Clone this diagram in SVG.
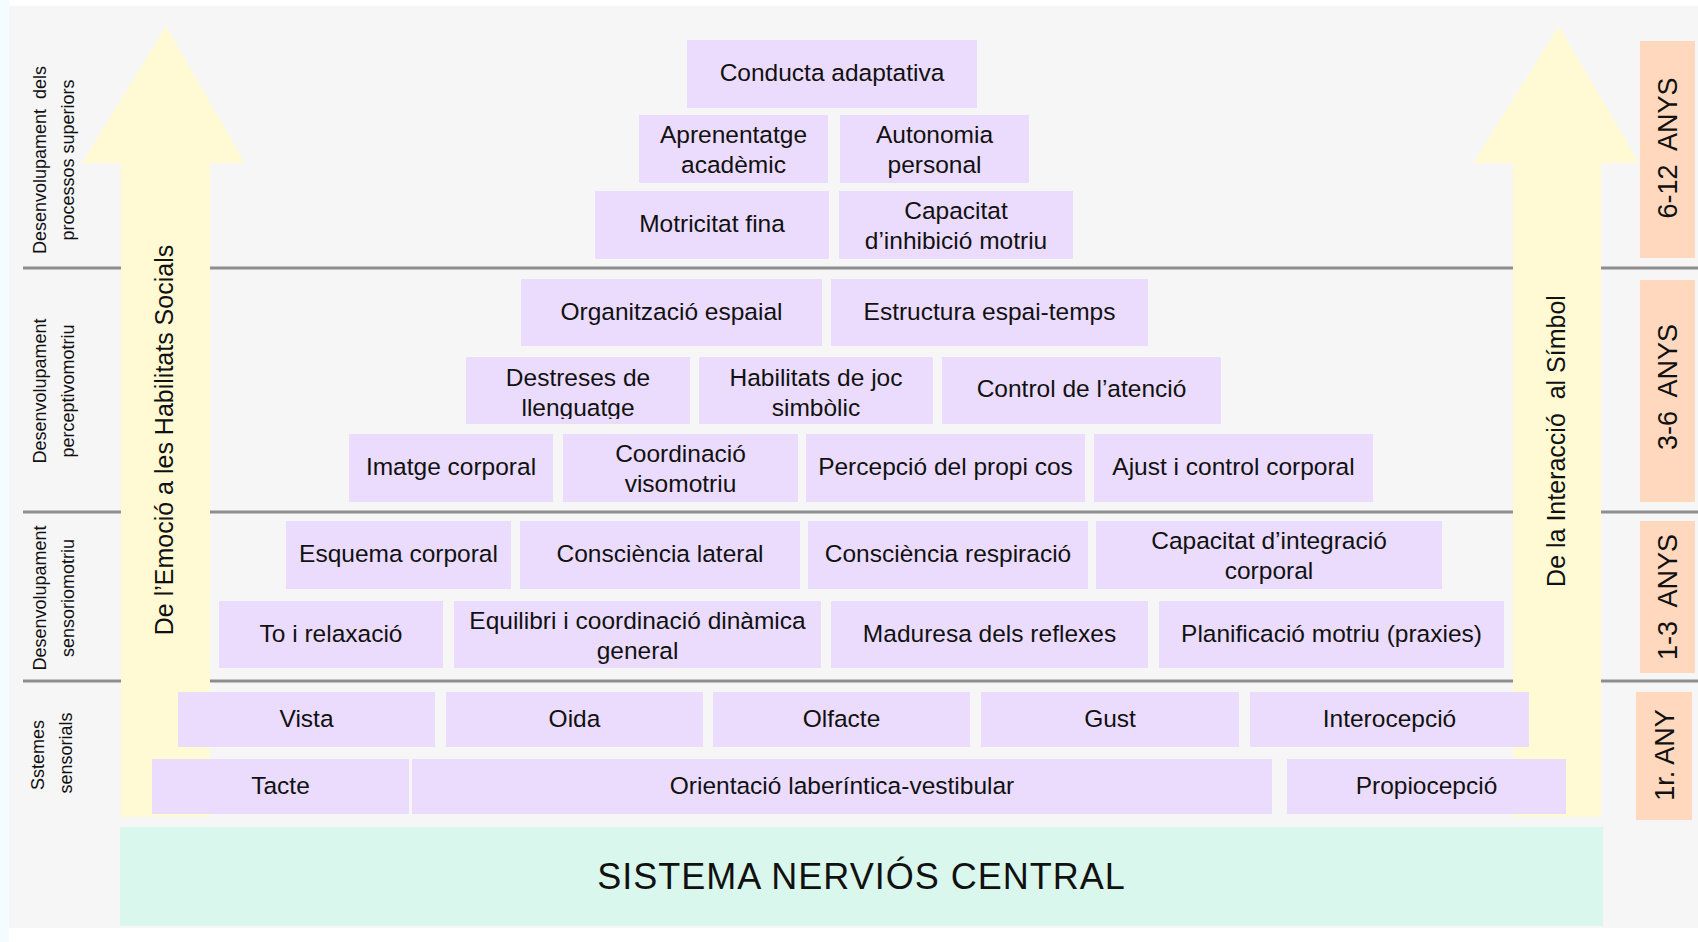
<svg xmlns="http://www.w3.org/2000/svg" width="1698" height="942" viewBox="0 0 1698 942">
<style>
  .bx { fill: #ebdcfd; }
  .t { font-family: "Liberation Sans", Arial, sans-serif; font-size: 24.5px; fill: #111; text-anchor: middle; }
  .lbl { font-family: "Liberation Sans", Arial, sans-serif; font-size: 18px; fill: #111; text-anchor: middle; }
  .age { fill: #ffd8be; }
  .aget { font-family: "Liberation Sans", Arial, sans-serif; font-size: 27px; fill: #111; text-anchor: middle; }
  .arr { fill: #fffad4; }
  .arrt { font-family: "Liberation Sans", Arial, sans-serif; font-size: 25px; fill: #111; text-anchor: middle; }
  .div { stroke: #8e8e8e; stroke-width: 3; }
</style>
<defs>
  <clipPath id="clipDest"><rect x="466" y="357" width="224" height="62"/></clipPath>
</defs>
<rect x="0" y="0" width="1698" height="942" fill="#ffffff"/>
<rect x="0" y="0" width="9" height="942" fill="#f3fcff"/>
<rect x="9" y="6" width="1689" height="922" fill="#f6f6f6"/>

<g id="dividers">
  <line class="div" x1="23" y1="268" x2="1698" y2="268"/>
  <line class="div" x1="23" y1="512" x2="1698" y2="512"/>
  <line class="div" x1="23" y1="681" x2="1698" y2="681"/>
</g>

<g id="connectors">
  <g id="arrow-left">
    <polygon class="arr" points="166,26 245,163 210,163 210,817 121,817 121,163 82,163"/>
    <text class="arrt" transform="translate(173,440) rotate(-90)" x="0" y="0">De l’Emoció a les Habilitats Socials</text>
  </g>
  <g id="arrow-right">
    <polygon class="arr" points="1559,26 1639,163 1601,163 1601,817 1513,817 1513,163 1473,163"/>
    <text class="arrt" transform="translate(1565,441) rotate(-90)" x="0" y="0" xml:space="preserve">De la Interacció  al Símbol</text>
  </g>
</g>

<g id="labels">
  <g id="label-superiors">
    <text class="lbl" transform="translate(46,160) rotate(-90)" xml:space="preserve">Desenvolupament  dels</text>
    <text class="lbl" transform="translate(74,160) rotate(-90)">processos superiors</text>
  </g>
  <g id="label-perceptivomotriu">
    <text class="lbl" transform="translate(46,391) rotate(-90)">Desenvolupament</text>
    <text class="lbl" transform="translate(74,391) rotate(-90)">perceptivomotriu</text>
  </g>
  <g id="label-sensoriomotriu">
    <text class="lbl" transform="translate(46,598) rotate(-90)">Desenvolupament</text>
    <text class="lbl" transform="translate(74,598) rotate(-90)">sensoriomotriu</text>
  </g>
  <g id="label-sensorials">
    <text class="lbl" transform="translate(44,755) rotate(-90)">Sstemes</text>
    <text class="lbl" transform="translate(72,753) rotate(-90)">sensorials</text>
  </g>
</g>

<g id="n-conducta"><rect class="bx" x="687" y="40" width="290" height="68"/><text class="t" x="832" y="81">Conducta adaptativa</text></g>

<g id="n-aprenentatge"><rect class="bx" x="639" y="115" width="189" height="68"/><text class="t" x="733.5" y="143">Aprenentatge</text><text class="t" x="733.5" y="173">acadèmic</text></g>
<g id="n-autonomia"><rect class="bx" x="840" y="115" width="189" height="68"/><text class="t" x="934.5" y="143">Autonomia</text><text class="t" x="934.5" y="173">personal</text></g>

<g id="n-motricitat"><rect class="bx" x="595" y="191" width="234" height="68"/><text class="t" x="712" y="232">Motricitat fina</text></g>
<g id="n-inhibicio"><rect class="bx" x="839" y="191" width="234" height="68"/><text class="t" x="956" y="219">Capacitat</text><text class="t" x="956" y="249">d’inhibició motriu</text></g>

<g id="n-organitzacio"><rect class="bx" x="521" y="279" width="301" height="67"/><text class="t" x="671.5" y="319.5">Organització espaial</text></g>
<g id="n-estructura"><rect class="bx" x="831" y="279" width="317" height="67"/><text class="t" x="989.5" y="319.5">Estructura espai-temps</text></g>

<g id="n-destreses"><rect class="bx" x="466" y="357" width="224" height="67"/><g clip-path="url(#clipDest)"><text class="t" x="578" y="385.5">Destreses de</text><text class="t" x="578" y="415.5">llenguatge</text></g></g>
<g id="n-habilitats"><rect class="bx" x="699" y="357" width="234" height="67"/><text class="t" x="816" y="385.5">Habilitats de joc</text><text class="t" x="816" y="415.5">simbòlic</text></g>
<g id="n-control"><rect class="bx" x="942" y="357" width="279" height="67"/><text class="t" x="1081.5" y="397">Control de l’atenció</text></g>

<g id="n-imatge"><rect class="bx" x="349" y="434" width="204" height="68"/><text class="t" x="451" y="475">Imatge corporal</text></g>
<g id="n-coordinacio"><rect class="bx" x="563" y="434" width="235" height="68"/><text class="t" x="680.5" y="462">Coordinació</text><text class="t" x="680.5" y="492">visomotriu</text></g>
<g id="n-percepcio"><rect class="bx" x="806" y="434" width="279" height="68"/><text class="t" x="945.5" y="475">Percepció del propi cos</text></g>
<g id="n-ajust"><rect class="bx" x="1094" y="434" width="279" height="68"/><text class="t" x="1233.5" y="475">Ajust i control corporal</text></g>

<g id="n-esquema"><rect class="bx" x="286" y="521" width="225" height="68"/><text class="t" x="398.5" y="562">Esquema corporal</text></g>
<g id="n-lateral"><rect class="bx" x="520" y="521" width="280" height="68"/><text class="t" x="660" y="562">Consciència lateral</text></g>
<g id="n-respiracio"><rect class="bx" x="808" y="521" width="280" height="68"/><text class="t" x="948" y="562">Consciència respiració</text></g>
<g id="n-integracio"><rect class="bx" x="1096" y="521" width="346" height="68"/><text class="t" x="1269" y="549">Capacitat d’integració</text><text class="t" x="1269" y="579">corporal</text></g>

<g id="n-to"><rect class="bx" x="219" y="601" width="224" height="67"/><text class="t" x="331" y="641.5">To i relaxació</text></g>
<g id="n-equilibri"><rect class="bx" x="454" y="601" width="367" height="67"/><text class="t" x="637.5" y="628.5">Equilibri i coordinació dinàmica</text><text class="t" x="637.5" y="658.5">general</text></g>
<g id="n-maduresa"><rect class="bx" x="831" y="601" width="317" height="67"/><text class="t" x="989.5" y="641.5">Maduresa dels reflexes</text></g>
<g id="n-planificacio"><rect class="bx" x="1159" y="601" width="345" height="67"/><text class="t" x="1331.5" y="641.5">Planificació motriu (praxies)</text></g>

<g id="n-vista"><rect class="bx" x="178" y="692" width="257" height="55"/><text class="t" x="306.5" y="726.5">Vista</text></g>
<g id="n-oida"><rect class="bx" x="446" y="692" width="257" height="55"/><text class="t" x="574.5" y="726.5">Oida</text></g>
<g id="n-olfacte"><rect class="bx" x="713" y="692" width="257" height="55"/><text class="t" x="841.5" y="726.5">Olfacte</text></g>
<g id="n-gust"><rect class="bx" x="981" y="692" width="258" height="55"/><text class="t" x="1110" y="726.5">Gust</text></g>
<g id="n-interocepcio"><rect class="bx" x="1250" y="692" width="279" height="55"/><text class="t" x="1389.5" y="726.5">Interocepció</text></g>

<g id="n-tacte"><rect class="bx" x="152" y="759" width="257" height="55"/><text class="t" x="280.5" y="794">Tacte</text></g>
<g id="n-orientacio"><rect class="bx" x="412" y="759" width="860" height="55"/><text class="t" x="842" y="794">Orientació laberíntica-vestibular</text></g>
<g id="n-propiocepcio"><rect class="bx" x="1287" y="759" width="279" height="55"/><text class="t" x="1426.5" y="794">Propiocepció</text></g>

<g id="n-snc"><rect x="120" y="827" width="1483" height="99" fill="#d9f7ec"/><text x="861.5" y="889" font-family="Liberation Sans, Arial, sans-serif" font-size="36" letter-spacing="1" text-anchor="middle" fill="#111">SISTEMA NERVIÓS CENTRAL</text></g>

<g id="ages">
  <g id="age-6-12"><rect class="age" x="1640" y="41" width="55" height="217"/><text class="aget" transform="translate(1677,148) rotate(-90)" xml:space="preserve">6-12  ANYS</text></g>
  <g id="age-3-6"><rect class="age" x="1640" y="280" width="55" height="222"/><text class="aget" transform="translate(1677,387) rotate(-90)" xml:space="preserve">3-6  ANYS</text></g>
  <g id="age-1-3"><rect class="age" x="1640" y="521" width="55" height="152"/><text class="aget" transform="translate(1677,597) rotate(-90)" xml:space="preserve">1-3  ANYS</text></g>
  <g id="age-1r"><rect class="age" x="1636" y="692" width="56" height="128"/><text class="aget" transform="translate(1674,755) rotate(-90)">1r. ANY</text></g>
</g>
</svg>
